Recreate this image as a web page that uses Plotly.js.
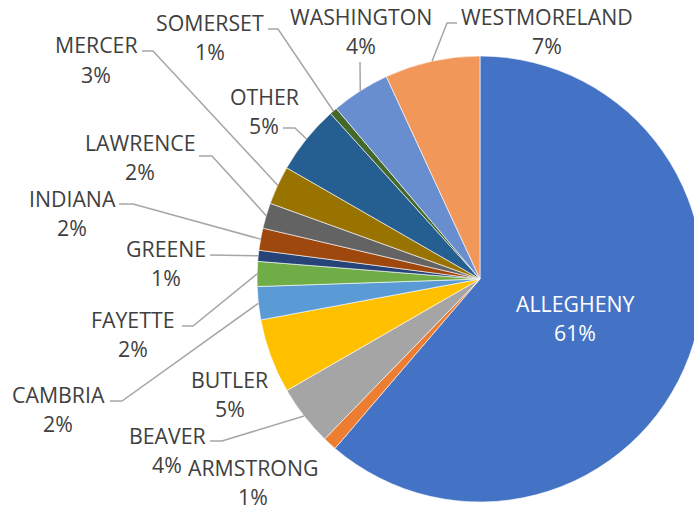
<!DOCTYPE html>
<html>
<head>
<meta charset="utf-8">
<script src="https://cdn.plot.ly/plotly-3.0.1.min.js"></script>
<style>
html, body { margin: 0; padding: 0; width: 694px; height: 511px; overflow: hidden; background: #fff; }
#chart { width: 720px; height: 511px; }
</style>
</head>
<body>
<div id="chart"></div>
<script>
// ---- data ----
const counties = ["ALLEGHENY", "ARMSTRONG", "BEAVER", "BUTLER", "CAMBRIA", "FAYETTE", "GREENE",
                  "INDIANA", "LAWRENCE", "MERCER", "OTHER", "SOMERSET", "WASHINGTON", "WESTMORELAND"];
const shares = [61.3, 1.0, 4.4, 5.4, 2.4, 1.8, 0.8, 1.6, 1.85, 2.8, 5.0, 0.55, 4.25, 6.9];
const colors = ["#4472C4", "#ED7D31", "#A5A5A5", "#FFC000", "#5B9BD5", "#70AD47", "#264478",
                "#9E480E", "#636363", "#997300", "#255E91", "#43682B", "#698ED0", "#F1975A"];

// ---- label layout (pixel positions of label name line center, and leader start/elbow) ----
const W = 720, H = 511;
const CX = 480, CY = 279, R = 223;
const labelLayout = {
  "ALLEGHENY":    {x: 575, y: 303, inside: true},
  "ARMSTRONG":    {x: 253, y: 467},
  "BEAVER":       {x: 167, y: 435, lead: [[210, 441], [222, 441]]},
  "BUTLER":       {x: 230, y: 379},
  "CAMBRIA":      {x: 58,  y: 394, lead: [[110, 401], [122, 401]]},
  "FAYETTE":      {x: 133, y: 319, lead: [[182, 326], [193, 326]]},
  "GREENE":       {x: 166, y: 248, lead: [[210, 255]]},
  "INDIANA":      {x: 72,  y: 198, lead: [[119, 204], [133, 204]]},
  "LAWRENCE":     {x: 140, y: 142, lead: [[199, 156], [212, 156]]},
  "MERCER":       {x: 96,  y: 45,  lead: [[142, 51], [153, 51]]},
  "OTHER":        {x: 264, y: 96,  lead: [[283, 128], [295, 128]]},
  "SOMERSET":     {x: 210, y: 22,  lead: [[268, 29], [278, 29]]},
  "WASHINGTON":   {x: 361, y: 16,  lead: [[360, 62]]},
  "WESTMORELAND": {x: 547, y: 16,  lead: [[457, 23], [447, 23]]}
};
const LINE_GAP = 29.5;
const FONT = "Open Sans, Carlito, Calibri, sans-serif";
const FS = 21.3;

const total = shares.reduce((a, b) => a + b, 0);
const px = x => x / W;
const py = y => 1 - y / H;

const annotations = [];
const shapes = [];
let cum = 0;
counties.forEach((name, i) => {
  const frac = shares[i] / total;
  const mid = (cum + frac / 2) * 2 * Math.PI;
  cum += frac;
  const L = labelLayout[name];
  const pct = Math.round(frac * 100) + "%";
  const col = L.inside ? "#FFFFFF" : "#404040";
  annotations.push({x: px(L.x), y: py(L.y), xref: "paper", yref: "paper", text: name, showarrow: false,
    xanchor: "center", yanchor: "middle", borderpad: 0, font: {family: FONT, size: FS, color: col}});
  annotations.push({x: px(L.x), y: py(L.y + LINE_GAP), xref: "paper", yref: "paper", text: pct, showarrow: false,
    xanchor: "center", yanchor: "middle", borderpad: 0, font: {family: FONT, size: FS, color: col}});
  if (L.lead) {
    const ex = CX + R * Math.sin(mid), ey = CY - R * Math.cos(mid);
    const pts = L.lead.concat([[ex, ey]]);
    const path = pts.map((p, k) => (k ? "L" : "M") + px(p[0]).toFixed(5) + "," + py(p[1]).toFixed(5)).join(" ");
    shapes.push({type: "path", xref: "paper", yref: "paper", path: path,
      line: {color: "#A6A6A6", width: 1.5}});
  }
});

const trace = {
  type: "pie",
  labels: counties,
  values: shares,
  marker: {colors: colors, line: {color: "#FFFFFF", width: 0.6}},
  sort: false,
  direction: "clockwise",
  rotation: 0,
  textinfo: "none",
  hoverinfo: "label+percent",
  domain: {x: [(CX - R) / W, (CX + R) / W], y: [(H - CY - R) / H, (H - CY + R) / H]}
};

const layout = {
  width: W, height: H,
  margin: {l: 0, r: 0, t: 0, b: 0},
  showlegend: false,
  paper_bgcolor: "#FFFFFF",
  annotations: annotations,
  shapes: shapes
};

Plotly.newPlot("chart", [trace], layout, {staticPlot: true, displayModeBar: false});
</script>
</body>
</html>
